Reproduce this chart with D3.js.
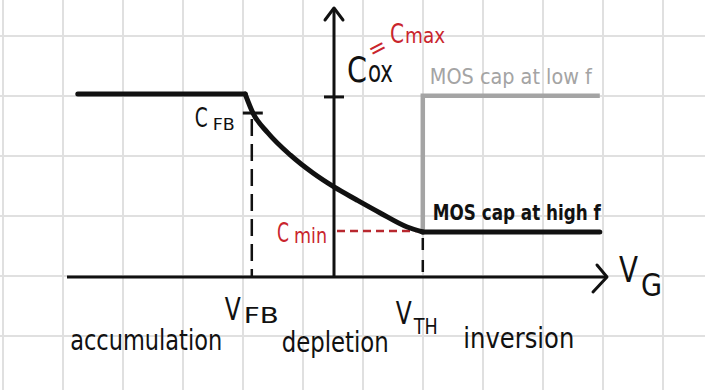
<!DOCTYPE html>
<html>
<head>
<meta charset="utf-8">
<script src="https://cdn.jsdelivr.net/npm/d3@7"></script>
<style>
    html, body { margin: 0; padding: 0; background: #ffffff; }
    svg { display: block; }
    .hand { font-family: 'Liberation Sans Narrow', 'DejaVu Sans Condensed', 'Roboto', sans-serif; font-stretch: condensed; }
</style>
</head>
<body>
<div id="chart"></div>
<script>
// C-V curve of a MOS capacitor (normalised units: C / Cox, VG in grid units)
const COX = 1;
const C_MIN = 0.246;
const C_FB = 0.896;
const V_FB = -1.37;
const V_TH = 1.48;

const accumulationVG = [-4.27, -1.48];
const accumulationC = [COX, COX];

const depletionVG = [-1.48, -1.35, -1.10, -0.73, -0.35, 0, 0.38, 0.77, 1.22, 1.48];
const depletionC = [1.0, 0.896, 0.787, 0.667, 0.568, 0.492, 0.421, 0.350, 0.273, 0.246];

const highFreqVG = [1.48, 4.43];
const highFreqC = [C_MIN, C_MIN];

const lowFreqVG = [1.48, 1.48, 4.43];
const lowFreqC = [C_MIN, 0.99, 0.99];

const regionLabels = ['accumulation', 'depletion', 'inversion'];
const regionCenters = [-3.13, 0.02, 3.08];

const width = 705;
const height = 390;
const black = '#111111';
const red = '#c9252d';
const gray = '#a4a4a4';

const svg = d3.select('#chart').append('svg')
    .attr('width', width)
    .attr('height', height);

// grid paper background
const paperX = d3.range(3, width, 60);
const paperY = d3.range(36, height, 60);
svg.append('g')
    .selectAll('line.vx')
    .data(paperX)
    .enter()
    .append('line')
    .attr('x1', (d) => d).attr('x2', (d) => d)
    .attr('y1', 0).attr('y2', height)
    .attr('stroke', '#e0e0e0').attr('stroke-width', 2);
svg.append('g')
    .selectAll('line.hy')
    .data(paperY)
    .enter()
    .append('line')
    .attr('y1', (d) => d).attr('y2', (d) => d)
    .attr('x1', 0).attr('x2', width)
    .attr('stroke', '#e0e0e0').attr('stroke-width', 2);

const xScale = d3.scaleLinear().domain([-4.45, 4.55]).range([67, 607]);
const yScale = d3.scaleLinear().domain([0, 1.47]).range([277, 8]);

const g = svg.append('g');

const toPoints = (xs, ys) => xs.map((x, i) => [xScale(x), yScale(ys[i])]);
const straight = d3.line();
const smooth = d3.line().curve(d3.curveMonotoneX);

// axes
const x0 = xScale(0);
const y0 = yScale(0);
const xEnd = xScale.range()[1];
const yTop = yScale.range()[1];

g.append('path')
    .attr('d', straight([[xScale.range()[0], y0], [xEnd, y0]]))
    .attr('stroke', black).attr('stroke-width', 3).attr('fill', 'none');
g.append('path')
    .attr('d', straight([[xEnd - 10, y0 - 12], [xEnd, y0], [xEnd - 14, y0 + 15]]))
    .attr('stroke', black).attr('stroke-width', 3).attr('fill', 'none')
    .attr('stroke-linecap', 'round').attr('stroke-linejoin', 'round');

g.append('path')
    .attr('d', straight([[x0, y0], [x0, yTop]]))
    .attr('stroke', black).attr('stroke-width', 3).attr('fill', 'none');
g.append('path')
    .attr('d', straight([[x0 - 9, yTop + 12], [x0, yTop], [x0 + 9, yTop + 12]]))
    .attr('stroke', black).attr('stroke-width', 3).attr('fill', 'none')
    .attr('stroke-linecap', 'round').attr('stroke-linejoin', 'round');

// Cox tick on the vertical axis
g.append('path')
    .attr('d', straight([[x0 - 10, yScale(0.984)], [x0 + 10, yScale(0.984)]]))
    .attr('stroke', black).attr('stroke-width', 3);

// dashed guides
g.append('path')
    .attr('d', straight([[xScale(V_FB), yScale(C_FB) + 6], [xScale(V_FB), y0]]))
    .attr('stroke', black).attr('stroke-width', 2.5)
    .attr('stroke-dasharray', '17 8').attr('fill', 'none');
g.append('path')
    .attr('d', straight([[xScale(V_TH), yScale(C_MIN) + 6], [xScale(V_TH), y0]]))
    .attr('stroke', black).attr('stroke-width', 2.5)
    .attr('stroke-dasharray', '12 10').attr('fill', 'none');
g.append('path')
    .attr('d', straight([[x0 + 3, yScale(C_MIN) - 1], [xScale(V_TH) - 4, yScale(C_MIN) - 1]]))
    .attr('stroke', '#b8282f').attr('stroke-width', 2.5)
    .attr('stroke-dasharray', '8 5').attr('fill', 'none');

// low frequency curve (gray)
g.append('path')
    .attr('d', straight(toPoints(lowFreqVG, lowFreqC)))
    .attr('stroke', gray).attr('stroke-width', 4.5).attr('fill', 'none')
    .attr('stroke-linejoin', 'miter');

// high frequency curve (black)
g.append('path')
    .attr('d', straight(toPoints(accumulationVG, accumulationC)))
    .attr('stroke', black).attr('stroke-width', 5).attr('fill', 'none')
    .attr('stroke-linecap', 'round');
g.append('path')
    .attr('d', smooth(toPoints(depletionVG, depletionC)))
    .attr('stroke', black).attr('stroke-width', 5).attr('fill', 'none')
    .attr('stroke-linecap', 'round');
g.append('path')
    .attr('d', straight(toPoints(highFreqVG, highFreqC)))
    .attr('stroke', black).attr('stroke-width', 5).attr('fill', 'none')
    .attr('stroke-linecap', 'round');

// CFB tick
g.append('path')
    .attr('d', straight([[xScale(V_FB) - 9, yScale(C_FB)], [xScale(V_FB) + 11, yScale(C_FB)]]))
    .attr('stroke', black).attr('stroke-width', 3);

// text helper
function label(text, x, y, size, length, color, weight) {
    return g.append('text')
        .attr('class', 'hand')
        .attr('x', x)
        .attr('y', y)
        .attr('font-size', size)
        .attr('font-weight', weight || 400)
        .attr('fill', color || black)
        .attr('textLength', length)
        .attr('lengthAdjust', 'spacingAndGlyphs')
        .text(text);
}

// region names under the axis
regionLabels.forEach((name, i) => {
    const widths = [152, 107, 111];
    const base = [350, 352, 348];
    label(name, xScale(regionCenters[i]) - widths[i] / 2, base[i], 28, widths[i]);
});

// VFB, VTH, VG
label('V', xScale(V_FB) - 27, y0 + 43, 32, 16);
label('FB', xScale(V_FB) - 8, y0 + 46, 22, 35);
label('V', xScale(V_TH) - 27, y0 + 47, 32, 16);
label('TH', xScale(V_TH) - 9, y0 + 57, 22, 24);
label('V', xEnd + 12, y0 + 5, 36, 19);
label('G', xEnd + 34, y0 + 19, 32, 21);

// Cox = Cmax
label('C', x0 + 13, yScale(COX) - 12, 36, 20);
label('ox', x0 + 34, yScale(COX) - 12, 30, 25);
g.append('text')
    .attr('class', 'hand')
    .attr('transform', `translate(${x0 + 47},${yScale(COX) - 39}) rotate(-28)`)
    .attr('text-anchor', 'middle')
    .attr('font-size', 24)
    .attr('fill', red)
    .text('=');
label('C', x0 + 56, yScale(COX) - 51, 27, 14, red);
label('max', x0 + 71, yScale(COX) - 51, 22, 40, red);

// CFB and Cmin
label('C', xScale(V_FB) - 57, yScale(C_FB) + 14, 26, 13);
label('FB', xScale(V_FB) - 39, yScale(C_FB) + 17, 16, 22);
label('C', x0 - 57, yScale(C_MIN) + 10, 27, 12, red);
label('min', x0 - 40, yScale(C_MIN) + 11, 22, 33, red);

// curve names
label('MOS cap at low f', xScale(V_TH) + 7, yScale(COX) - 10, 21, 162, gray);
label('MOS cap at high f', xScale(V_TH) + 10, yScale(C_MIN) - 12, 21, 168, black, 600);
</script>
</body>
</html>
